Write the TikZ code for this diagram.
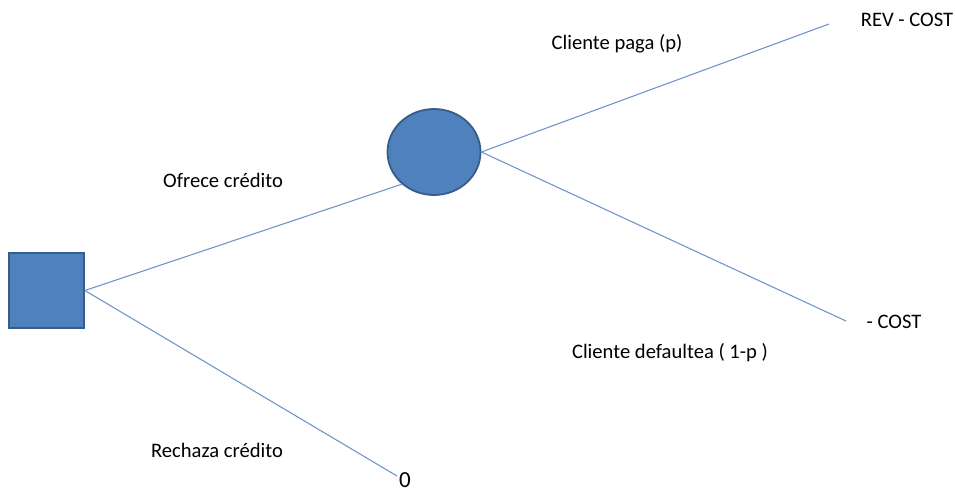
\documentclass[tikz,border=0pt]{standalone}
\usepackage{fontspec}
\setmainfont{Carlito}
\usetikzlibrary{shapes.geometric}
\definecolor{shapefill}{HTML}{4F81BD}
\definecolor{shapeedge}{HTML}{385D8A}
\definecolor{linecol}{HTML}{7096CC}
\begin{document}
\begin{tikzpicture}[x=1pt,y=-1pt,
  decision/.style={draw=shapeedge,fill=shapefill,line width=1.8pt,minimum width=75pt,minimum height=75pt,inner sep=0pt},
  chance/.style={ellipse,draw=shapeedge,fill=shapefill,line width=1.8pt,minimum width=93pt,minimum height=86pt,inner sep=0pt},
  branch/.style={draw=linecol,line width=1.1pt},
  lbl/.style={font=\fontsize{20.6}{24}\selectfont,inner sep=0pt,text=black}]
\useasboundingbox (0,0) rectangle (955,495);
\node[decision] (sq) at (46.5,290.5) {};
\node[chance] (ci) at (434,152) {};
\coordinate (pay) at (829,24);
\coordinate (def) at (846,321);
\coordinate (rej) at (397,476);
\draw[branch] (sq.east) -- (ci.-135);
\draw[branch] (ci.east) -- (pay);
\draw[branch] (ci.east) -- (def);
\draw[branch] (sq.east) -- (rej);
\node[lbl] (l1) at (223,180) {Ofrece crédito};
\node[lbl] (l2) at (617,44) {Cliente paga (p)};
\node[lbl] (l3) at (907,20) {REV - COST};
\node[lbl] (l4) at (894,322) {- COST};
\node[lbl] (l5) at (670,353) {Cliente defaultea ( 1-p )};
\node[lbl] (l6) at (217,450) {Rechaza crédito};
\node[lbl,font=\fontsize{23}{27}\selectfont,anchor=base] (l7) at (405,487) {0};
\end{tikzpicture}
\end{document}
